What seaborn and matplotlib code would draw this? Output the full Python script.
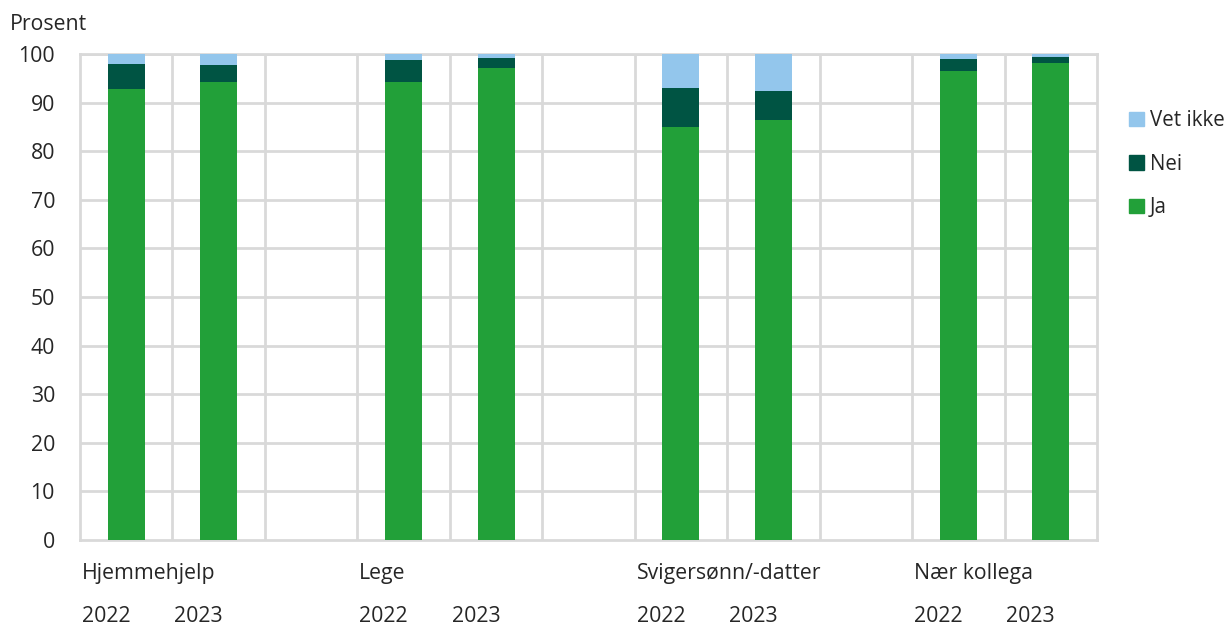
import pandas as pd
import seaborn as sns
import matplotlib.pyplot as plt
from matplotlib.patches import Patch
from matplotlib.transforms import blended_transform_factory

CATEGORIES = ['Hjemmehjelp', 'Lege', 'Svigersønn/-datter', 'Nær kollega']
YEARS = ['2022', '2023']

JA = [92.9, 94.2, 94.2, 97.1, 84.9, 86.4, 96.5, 98.1]
NEI = [5.0, 3.6, 4.5, 2.1, 8.1, 6.0, 2.5, 1.3]
VET_IKKE = [2.1, 2.2, 1.3, 0.8, 7.0, 7.6, 1.0, 0.6]

COLORS = {'Vet ikke': '#93c6ec', 'Nei': '#005443', 'Ja': '#22a039'}
GRID = '#d9d9d9'

sns.set_style('white')
plt.rcParams['font.family'] = ['Open Sans', 'DejaVu Sans']
plt.rcParams['font.size'] = 15.3

# slot order: two years per category plus a blank slot between groups
order = []
for i, c in enumerate(CATEGORIES):
    order += [f'{c} {y}' for y in YEARS]
    if i < len(CATEGORIES) - 1:
        order.append(f'blank{i}')

rows = []
k = 0
for c in CATEGORIES:
    for y in YEARS:
        rows.append({'slot': f'{c} {y}', 'Ja': JA[k], 'Nei': NEI[k],
                     'Vet ikke': VET_IKKE[k]})
        k += 1
df = pd.DataFrame(rows)
df['ja_top'] = df['Ja']
df['nei_top'] = df['Ja'] + df['Nei']
df['vi_top'] = df['nei_top'] + df['Vet ikke']

fig = plt.figure(figsize=(12.29, 6.28), dpi=100)
ax = fig.add_axes([80 / 1229, 1 - 540 / 628, 1017 / 1229, 486 / 628])

for col, name in [('vi_top', 'Vet ikke'), ('nei_top', 'Nei'), ('ja_top', 'Ja')]:
    sns.barplot(data=df, x='slot', y=col, order=order, color=COLORS[name],
                width=0.4, saturation=1, errorbar=None, ax=ax, zorder=3,
                linewidth=0, edgecolor='none')

ax.set_xlim(-0.5, len(order) - 0.5)
ax.set_ylim(0, 100)
ax.set_yticks(range(0, 101, 10))
ax.set_xticks([])
ax.set_xlabel('')
ax.set_ylabel('')
ax.tick_params(axis='y', length=0, pad=18)
for yv in range(10, 101, 10):
    ax.axhline(yv, color=GRID, lw=2, zorder=1)
for xv in range(len(order) - 1):
    ax.axvline(xv + 0.5, color=GRID, lw=2, zorder=1)
for s in ax.spines.values():
    s.set_color(GRID)
    s.set_linewidth(2)

trans = blended_transform_factory(ax.transData, fig.transFigure)
for i, c in enumerate(CATEGORIES):
    start = i * 3 - 0.5
    ax.text(start + 0.02, 1 - 574 / 628, c, transform=trans,
            ha='left', va='center')
    for j, y in enumerate(YEARS):
        ax.text(start + j + 0.02, 1 - 616 / 628, y, transform=trans,
                ha='left', va='center')

fig.text(10 / 1229, 1 - 25 / 628, 'Prosent', ha='left', va='center')

handles = [Patch(color=COLORS[n]) for n in ['Vet ikke', 'Nei', 'Ja']]
fig.legend(handles, ['Vet ikke', 'Nei', 'Ja'], loc='upper left',
           bbox_to_anchor=(1121 / 1229, 1 - 102 / 628), frameon=False,
           handlelength=0.7, handleheight=0.7, handletextpad=0.3,
           labelspacing=1.1, borderaxespad=0, fontsize=14.8)

fig.savefig('out.png', dpi=100)
